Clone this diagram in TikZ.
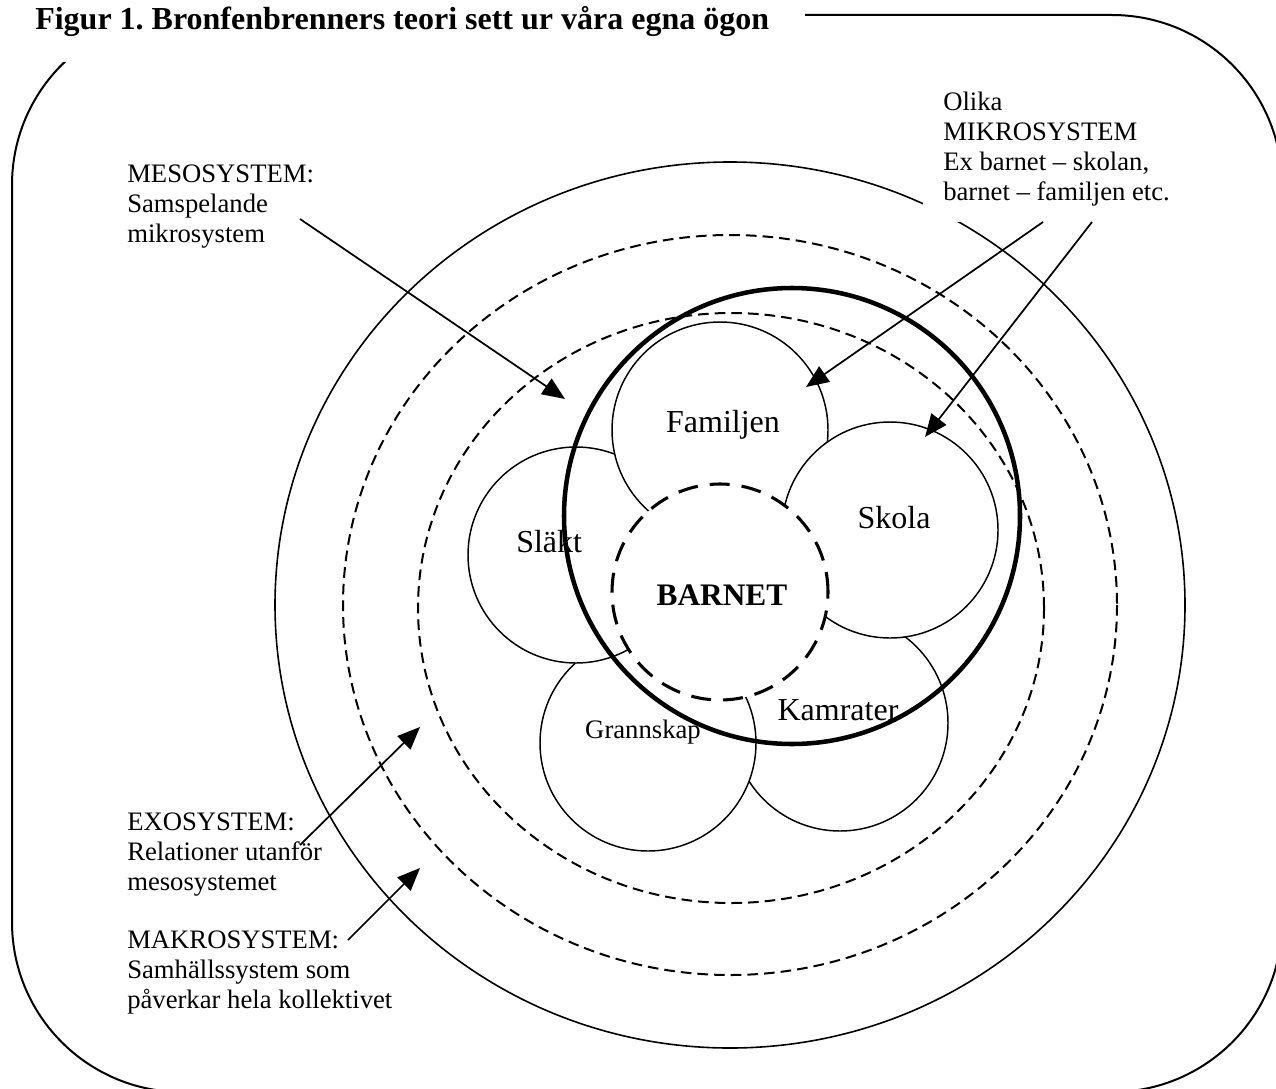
\documentclass[tikz,border=0pt]{standalone}
\usepackage{fontspec}
\setmainfont{Liberation Serif}
\usetikzlibrary{arrows.meta}
\frenchspacing
\begin{document}
\begin{tikzpicture}[x=0.75pt,y=-0.75pt,
  framel/.style={line width=1.5pt, rounded corners=127.5pt},
  ringsolid/.style={line width=1.2pt},
  ringdash/.style={line width=1.5pt, dash pattern=on 8pt off 4.5pt},
  smallc/.style={circle, draw, fill=white, line width=1.1pt, minimum size=162pt, inner sep=0pt},
  barnc/.style={circle, draw, fill=white, line width=2.3pt, dash pattern=on 15pt off 9pt, minimum size=162pt, inner sep=0pt},
  mesoc/.style={circle, draw, line width=3.4pt, minimum size=342pt, inner sep=0pt},
  lbl/.style={inner sep=0pt, font=\fontsize{20}{22.5}\selectfont},
  biglbl/.style={inner sep=0pt, font=\fontsize{24}{28}\selectfont, anchor=base},
  arr/.style={line width=1.3pt, -{Triangle[length=17pt,width=14pt]}}
]
\clip (0,0) rectangle (1276,1088);
% frame
\draw[framel] (12,15) rectangle (1282,1092);
% title with white cover
\fill[white] (0,0) rectangle (805,62);
\node[inner sep=0pt, anchor=base west, font=\bfseries\fontsize{24}{28}\selectfont] (title) at (35,30) {Figur 1. Bronfenbrenners teori sett ur våra egna ögon};
% rings
\draw[ringsolid] (730,605) ellipse [x radius=455, y radius=443];
\draw[ringdash] (730,605) ellipse [x radius=387, y radius=370];
\draw[ringdash] (731,608) ellipse [x radius=313, y radius=295];
% white box behind micro-system text
\fill[white] (923,70) rectangle (1200,222);
% small circles (drawing order matters)
\node[smallc] (kam) at (840,723) {};
\node[smallc] (gran) at (648,743) {};
\node[smallc] (slakt) at (576,555) {};
\node[smallc] (fam) at (720,430) {};
\node[smallc] (skola) at (890,530) {};
\node[barnc] (barn) at (720,592) {};
% circle texts
\node[biglbl] (tfam) at (723,432) {Familjen};
\node[biglbl, anchor=base west] (tslakt) at (516,552) {Släkt};
\node[biglbl] (tskola) at (894,528) {Skola};
\node[biglbl, font=\bfseries\fontsize{23.5}{28}\selectfont] (tbarn) at (722,605) {BARNET};
\node[biglbl] (tkam) at (838,720) {Kamrater};
\node[biglbl, font=\fontsize{20}{24}\selectfont] (tgran) at (643,738) {Grannskap};
% mesosystem thick circle
\node[mesoc] (meso) at (792,516) {};
% labels
\node[lbl, anchor=base west] (lmeso) at (127,182) {\begin{tabular}[t]{@{}l@{}}MESOSYSTEM:\\Samspelande\\mikrosystem\end{tabular}};
\node[lbl, anchor=base west] (lmikro) at (943,110) {\begin{tabular}[t]{@{}l@{}}Olika\\MIKROSYSTEM\\Ex barnet – skolan,\\barnet – familjen etc.\end{tabular}};
\node[lbl, anchor=base west] (lexo) at (127,830) {\begin{tabular}[t]{@{}l@{}}EXOSYSTEM:\\Relationer utanför\\mesosystemet\end{tabular}};
\node[lbl, anchor=base west] (lmakro) at (127,948) {\begin{tabular}[t]{@{}l@{}}MAKROSYSTEM:\\Samhällssystem som\\påverkar hela kollektivet\end{tabular}};
% arrow end points
\coordinate (smeso) at (300,219);
\coordinate (emeso) at (565,399);
\coordinate (smik1) at (1043,222);
\coordinate (emik1) at (806,387);
\coordinate (smik2) at (1092,222);
\coordinate (emik2) at (925,437);
\coordinate (sexo) at (300,845);
\coordinate (eexo) at (420,727);
\coordinate (smakro) at (348,940);
\coordinate (emakro) at (420,868);
\draw[arr] (smeso) -- (emeso);
\draw[arr] (smik1) -- (emik1);
\draw[arr] (smik2) -- (emik2);
\draw[arr] (sexo) -- (eexo);
\draw[arr] (smakro) -- (emakro);
\end{tikzpicture}
\end{document}
